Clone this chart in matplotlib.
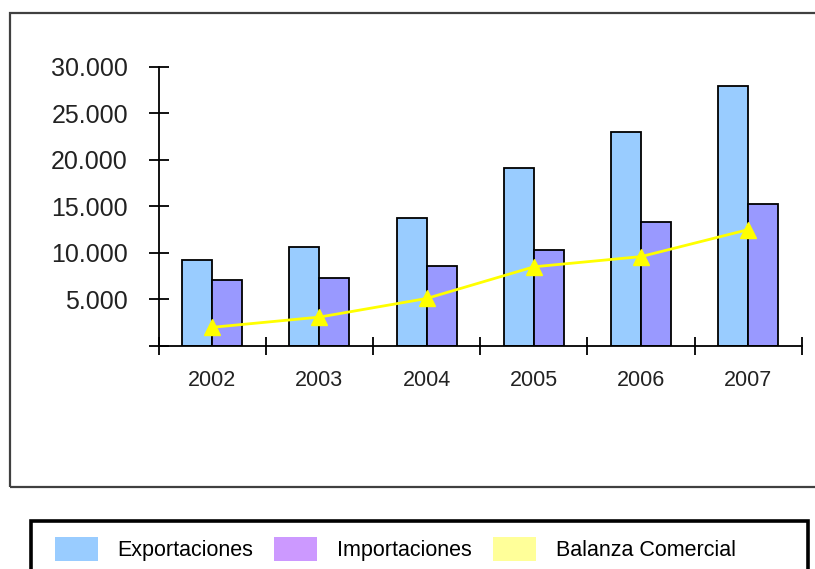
import matplotlib.pyplot as plt
from matplotlib.patches import Rectangle, Patch
import numpy as np

plt.rcParams['font.family'] = ['Liberation Sans', 'DejaVu Sans']

years = ['2002', '2003', '2004', '2005', '2006', '2007']
exportaciones = [9200, 10600, 13700, 19100, 23000, 27900]
importaciones = [7050, 7300, 8600, 10300, 13300, 15200]
balanza = [2000, 3100, 5100, 8500, 9600, 12500]

fig = plt.figure(figsize=(8.15, 5.69), dpi=100)

# outer chart box and legend box
fig.add_artist(Rectangle((0.0128, 0.1441), 1.0, 0.8325, transform=fig.transFigure,
                         fill=False, ec='#404040', lw=1.6))
fig.add_artist(Rectangle((0.038, -0.05), 0.9534, 0.1344, transform=fig.transFigure,
                         fill=False, ec='black', lw=2.6))

ax = fig.add_axes([0.1945, 0.392, 0.7895, 0.4908])
x = np.arange(len(years))
w = 0.28
ax.bar(x - w / 2, exportaciones, w, color='#99CCFF', edgecolor='black', lw=1.3, zorder=2)
ax.bar(x + w / 2, importaciones, w, color='#9999FF', edgecolor='black', lw=1.3, zorder=2)
ax.plot(x, balanza, color='#FFFF00', lw=2, marker='^', ms=11, zorder=3)

ax.set_xlim(-0.5, 5.5)
ax.set_ylim(0, 30000)
for s in ['top', 'right']:
    ax.spines[s].set_visible(False)
ax.spines['left'].set_linewidth(1.3)
ax.spines['bottom'].set_linewidth(1.3)

ax.set_yticks(range(0, 30001, 5000))
ax.set_yticklabels(['', '5.000', '10.000', '15.000', '20.000', '25.000', '30.000'])
ax.tick_params(axis='y', direction='inout', length=14, width=1.3, pad=15,
               labelsize=18, labelcolor='#222222')

ax.set_xticks(np.arange(-0.5, 6, 1))
ax.set_xticklabels([])
ax.set_xticks(x, minor=True)
ax.set_xticklabels(years, minor=True)
ax.tick_params(axis='x', which='major', direction='inout', length=13, width=1.3)
ax.tick_params(axis='x', which='minor', length=0, pad=17, labelsize=15.5, labelcolor='#222222')

handles = [Patch(facecolor='#99CCFF', edgecolor='none'),
           Patch(facecolor='#CC99FF', edgecolor='none'),
           Patch(facecolor='#FFFF99', edgecolor='none')]
fig.legend(handles, ['Exportaciones', 'Importaciones', 'Balanza Comercial'],
           loc='center left', bbox_to_anchor=(0.067, 0.0351), ncol=3, frameon=False,
           fontsize=15.5, handlelength=2.0, handleheight=1.4, handletextpad=0.9,
           columnspacing=1.0, borderpad=0, borderaxespad=0)

fig.savefig('out.png', dpi=100)
